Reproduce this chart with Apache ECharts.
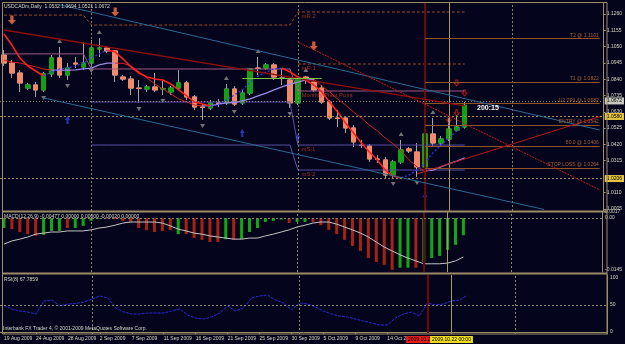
<!DOCTYPE html>
<html>
<head>
<meta charset="utf-8">
<script src="https://cdn.jsdelivr.net/npm/echarts@6.0.0/dist/echarts.min.js"></script>
<style>
  html, body { margin: 0; padding: 0; background: #04041c; }
  #chart { width: 625px; height: 344px; }
</style>
</head>
<body>
<div id="chart"></div>
<script>
  // daily bars, MT4 style (sunday bars included)
  const dates = ['19 Aug 2009','20 Aug 2009','21 Aug 2009','23 Aug 2009','24 Aug 2009','25 Aug 2009','26 Aug 2009','27 Aug 2009','28 Aug 2009','30 Aug 2009','31 Aug 2009',
    '1 Sep 2009','2 Sep 2009','3 Sep 2009','4 Sep 2009','6 Sep 2009','7 Sep 2009','8 Sep 2009','9 Sep 2009','10 Sep 2009','11 Sep 2009','13 Sep 2009','14 Sep 2009','15 Sep 2009','16 Sep 2009','17 Sep 2009','18 Sep 2009','20 Sep 2009','21 Sep 2009','22 Sep 2009','23 Sep 2009','24 Sep 2009','25 Sep 2009','27 Sep 2009','28 Sep 2009','29 Sep 2009','30 Sep 2009',
    '1 Oct 2009','2 Oct 2009','4 Oct 2009','5 Oct 2009','6 Oct 2009','7 Oct 2009','8 Oct 2009','9 Oct 2009','11 Oct 2009','12 Oct 2009','13 Oct 2009','14 Oct 2009','15 Oct 2009','16 Oct 2009','18 Oct 2009','19 Oct 2009','20 Oct 2009','21 Oct 2009','22 Oct 2009','23 Oct 2009','25 Oct 2009','26 Oct 2009'];
  const opens = [1.0996,1.0944,1.0880,1.0783,1.0803,1.0771,1.0874,1.0977,1.0867,1.0944,1.0919,1.0944,1.1035,1.1041,1.1022,1.0854,1.0841,1.0783,1.0777,1.0790,
    1.0777,1.0758,1.0783,1.0816,1.0726,1.0661,1.0655,1.0687,1.0687,1.0777,1.0687,1.0751,1.0912,1.0912,1.0932,1.0848,1.0835,1.0687,1.0854,1.0822,
    1.0783,1.0693,1.0590,1.0590,1.0526,1.0416,1.0410,1.0326,1.0320,1.0223,1.0307,1.0391,1.0371,1.0275,1.0487,1.0429,1.0455,1.0513,1.0532];
  const closes = [1.0944,1.0880,1.0816,1.0803,1.0771,1.0874,1.0977,1.0867,1.0912,1.0938,1.0944,1.1041,1.1041,1.1022,1.0867,1.0841,1.0783,1.0780,1.0790,1.0771,
    1.0780,1.0783,1.0816,1.0726,1.0661,1.0658,1.0687,1.0684,1.0777,1.0680,1.0751,1.0906,1.0909,1.0932,1.0854,1.0845,1.0687,1.0841,1.0835,1.0771,
    1.0693,1.0590,1.0587,1.0526,1.0436,1.0413,1.0326,1.0323,1.0223,1.0307,1.0384,1.0378,1.0275,1.0487,1.0429,1.0455,1.0519,1.0532,1.0672];
  const lows = [1.0925,1.0848,1.0758,1.0771,1.0726,1.0758,1.0854,1.0848,1.0835,1.0912,1.0899,1.0932,1.0983,1.1009,1.0822,1.0829,1.0738,1.0687,1.0758,1.0758,
    1.0738,1.0738,1.0777,1.0706,1.0642,1.0577,1.0642,1.0661,1.0674,1.0668,1.0674,1.0738,1.0867,1.0899,1.0835,1.0803,1.0655,1.0674,1.0809,1.0758,
    1.0680,1.0577,1.0532,1.0494,1.0403,1.0397,1.0307,1.0300,1.0204,1.0204,1.0294,1.0365,1.0210,1.0255,1.0410,1.0410,1.0442,1.0500,1.0521];
  const highs = [1.1028,1.0964,1.0899,1.0816,1.0822,1.0887,1.0996,1.1048,1.0944,1.0983,1.1080,1.1093,1.1105,1.1054,1.1028,1.0867,1.0861,1.0835,1.0803,1.0880,
    1.0835,1.0796,1.0899,1.0829,1.0738,1.0680,1.0706,1.0713,1.0809,1.0796,1.0771,1.0912,1.0983,1.0944,1.0944,1.0912,1.0848,1.0848,1.0861,1.0848,
    1.0803,1.0706,1.0642,1.0603,1.0545,1.0449,1.0423,1.0352,1.0339,1.0320,1.0449,1.0403,1.0429,1.0494,1.0590,1.0474,1.0590,1.0610,1.0694];

  // moving averages (red while falling, blue/lavender while rising)
  const maFast = [1.1131,1.1060,1.0977,1.0925,1.0893,1.0861,1.0887,1.0906,1.0912,1.0925,1.0944,1.0977,1.1003,1.1028,1.1015,1.0970,1.0919,1.0880,1.0854,1.0841,
    1.0835,1.0809,1.0771,1.0732,1.0693,1.0680,1.0668,1.0674,1.0706,1.0738,1.0771,1.0822,1.0861,1.0887,1.0906,1.0912,1.0887,1.0854,1.0835,1.0803,
    1.0758,1.0693,1.0629,1.0558,1.0494,1.0429,1.0371,1.0320,1.0255,1.0216,1.0204,1.0223,1.0255,1.0300,1.0365,1.0416,1.0461,1.0507,1.0552];
  const maSlow = [1.0964,1.0951,1.0944,1.0932,1.0919,1.0906,1.0899,1.0899,1.0899,1.0900,1.0906,1.0912,1.0932,1.0944,1.0944,1.0942,1.0925,1.0887,1.0848,1.0809,
    1.0777,1.0745,1.0713,1.0693,1.0674,1.0668,1.0670,1.0680,1.0687,1.0690,1.0700,1.0713,1.0732,1.0751,1.0771,1.0790,1.0809,1.0822,1.0835,1.0841,
    1.0796,1.0758,1.0713,1.0674,1.0629,1.0590,1.0545,1.0507,1.0461,1.0423,1.0378,1.0320,1.0275,1.0249,1.0255,1.0275,1.0294,1.0313,1.0333];

  // MACD(12,26,9): histogram split in rising / falling buffers, plus signal
  const macdUp = [-0.0028,null,null,null,null,-0.0047,-0.0036,-0.0036,null,-0.0028,-0.0022,-0.0008,-0.0002,null,null,null,null,null,null,null,
    null,null,-0.0045,null,null,null,null,null,-0.0059,null,-0.0059,-0.0039,-0.0028,-0.0011,-0.0008,-0.0004,null,-0.0011,-0.0011,null,
    null,null,null,null,null,null,null,null,null,null,-0.0139,-0.0139,null,-0.0123,-0.0112,-0.0106,-0.0089,-0.0075,-0.0048];
  const macdDown = [null,-0.0031,-0.0039,-0.0045,-0.0050,null,null,null,-0.0028,null,null,null,null,-0.0002,-0.0003,-0.0008,-0.0012,-0.0028,-0.0034,-0.0039,
    -0.0036,-0.0034,null,-0.0045,-0.0056,-0.0061,-0.0067,-0.0067,null,-0.0061,null,null,null,null,null,null,-0.0014,null,null,-0.0011,
    -0.0020,-0.0033,-0.0045,-0.0061,-0.0078,-0.0092,-0.0112,-0.0123,-0.0131,-0.0145,null,null,-0.0139,null,null,null,null,null,null];
  const macdSignal = [-0.0073,-0.0064,-0.0059,-0.0053,-0.0045,-0.0042,-0.0039,-0.0039,-0.0036,-0.0036,-0.0036,-0.0033,-0.0028,-0.0025,-0.0020,-0.0014,-0.0011,-0.0011,-0.0011,-0.0011,
    -0.0014,-0.0022,-0.0031,-0.0036,-0.0042,-0.0045,-0.0050,-0.0053,-0.0056,-0.0059,-0.0059,-0.0056,-0.0056,-0.0050,-0.0045,-0.0039,-0.0033,-0.0025,-0.0020,-0.0014,
    -0.0011,-0.0011,-0.0017,-0.0025,-0.0033,-0.0042,-0.0053,-0.0067,-0.0081,-0.0092,-0.0103,-0.0112,-0.0120,-0.0128,-0.0128,-0.0128,-0.0126,-0.0120,-0.0109];

  // RSI(8)
  const rsi = [48.7,42.6,38.9,37.0,33.3,57.4,59.3,48.1,51.9,52.8,55.6,61.1,66.7,63.0,44.4,37.0,33.3,33.3,35.2,35.2,
    35.2,38.9,42.6,31.5,25.9,24.1,27.8,35.2,48.1,38.9,44.4,63.0,66.7,68.5,59.3,53.7,40.7,53.7,51.9,46.3,
    38.9,33.3,29.6,27.8,24.1,20.4,16.7,13.0,13.0,25.9,33.3,37.0,29.6,53.7,50.0,51.9,57.4,59.3,67.8];

  // axis tick labels
  const priceTicks = [1.0005, 1.0110, 1.0315, 1.0420, 1.0525, 1.0630, 1.0735, 1.0840, 1.0945, 1.1050, 1.1155, 1.1260];
  const macdTicks = [0.0017, 0, -0.0145];
  const rsiTicks = [0, 50, 100];

  // trade levels drawn from the red marker bar to the right edge
  const levelNames = ['T2 @ 1.1101', 'T1 @ 1.0822', '1/2 TP1 @ 1.0682', 'ENTRY @ 1.0542', '50.0 @ 1.0406', 'STOP LOSS @ 1.0264'];
  const levelPrices = [1.1101, 1.0822, 1.0682, 1.0542, 1.0406, 1.0264];
  const bidPrice = 1.0672;
  const alertPrices = [1.0580, 1.0206];

  // monthly pivots: Aug, Sep, Oct
  const monthFirstBar = [0, 11, 37];
  const mR2 = [1.1253, 1.1189, 1.1273];
  const mR1 = [null, null, 1.0938];
  const mPivot = [1.1003, 1.0906, 1.0764];
  const mS1 = [null, 1.0693, 1.0416];
  const mS2 = [null, 1.0416, 1.0255];

  // drawn lines [bar, price]
  const channelUpper = [[7, 1.1320], [75, 1.0513]];
  const channelLower = [[5, 1.0719], [68, 1.0001]];
  const trendA = [[0, 1.1157], [58, 1.0668]];
  const trendB = [[37, 1.1080], [75, 1.0127]];
  const trendC = [[52, 1.0230], [75, 1.0599]];
  const greenLine = [[30, 1.0848], [40, 1.0848]];

  // signals [bar, price]
  const orangeArrows = [[1, 1.1221], [14, 1.1273], [39, 1.1054]];
  const redArrows = [[57, 1.0816], [58, 1.0751], [57, 1.0623], [56, 1.0577]];
  const blueArrows = [[8, 1.0577], [30, 1.0494], [37, 1.0461], [53, 1.0081]];
  const fractalUp = [7, 12, 28, 32, 38, 50, 54];
  const fractalDown = [5, 8, 11, 17, 20, 25, 29, 36, 49, 52];

  const monthSeparators = [11, 37, 64];
  const redBar = 53;
  const khakiBar = 56;
  const totalSlots = 76;

  const cats = dates.slice();
  for (let i = dates.length; i < totalSlots; i++) cats.push('#' + i);

  const frame = '#9c8c64';
  const txt = '#d6d6c4';
  const font = 'Liberation Sans';

  function splitDir(arr) {
    const up = arr.map(() => null), down = arr.map(() => null);
    for (let i = 1; i < arr.length; i++) {
      const t = arr[i] >= arr[i - 1] ? up : down;
      t[i - 1] = arr[i - 1];
      t[i] = arr[i];
    }
    return [up, down];
  }
  const [fastUp, fastDown] = splitDir(maFast);
  const [slowUp, slowDown] = splitDir(maSlow);

  function monthly(levels) {
    return dates.map((d, i) => {
      let m = 0;
      monthFirstBar.forEach((b, k) => { if (i >= b) m = k; });
      return levels[m];
    });
  }

  function verticals() {
    const v = monthSeparators.map(b => ({ xAxis: b, lineStyle: { color: '#8a8466', type: [2, 2], width: 1 } }));
    v.push({ xAxis: redBar, lineStyle: { color: '#6e0808', type: 'solid', width: 2 } });
    v.push({ xAxis: khakiBar, lineStyle: { color: '#a89a5a', type: 'solid', width: 1 } });
    return v;
  }

  function seg(pts, style) {
    return [{ coord: pts[0], lineStyle: style }, { coord: pts[1] }];
  }

  const levelColor = '#8e5426';
  const mainMarks = verticals().concat(
    levelPrices.map((p, k) => [
      { coord: [redBar, p], lineStyle: { color: levelColor, width: 1, type: 'solid' },
        label: { show: true, formatter: levelNames[k], position: 'insideEndTop', distance: 1,
          color: '#a86034', fontSize: 5, fontFamily: font } },
      { coord: [totalSlots - 1, p] }
    ]),
    [
      { yAxis: bidPrice, lineStyle: { color: '#8a8468', type: [1, 2], width: 1 },
        label: { show: true, position: 'end', formatter: bidPrice.toFixed(4), distance: 1, color: '#000',
          backgroundColor: '#c8c8c0', padding: [1, 2], fontSize: 5, fontFamily: font } }
    ],
    alertPrices.map(p => ({ yAxis: p, lineStyle: { color: '#a89028', type: [2, 2], width: 1 },
      label: { show: true, position: 'end', formatter: p.toFixed(4), distance: 1, color: '#000',
        backgroundColor: '#e4c440', padding: [1, 2], fontSize: 5, fontFamily: font } })),
    [
      seg(channelUpper, { color: '#2c6894', width: 1, type: 'solid' }),
      seg(channelLower, { color: '#2c6894', width: 1, type: 'solid' }),
      seg(trendA, { color: '#8c1010', width: 1.4, type: 'solid' }),
      seg(trendB, { color: '#c41818', width: 1, type: [2, 1] }),
      seg(trendC, { color: '#b81818', width: 1, type: 'solid' }),
      seg(greenLine, { color: '#7cc048', width: 1.2, type: 'solid' })
    ]
  );

  const pivotLabelData = [
    [mR2[2], 'mR 2'], [mR1[2], 'mR 1'], [mPivot[2], 'Monthly Pivot Point'], [mS1[2], 'mS 1'], [mS2[2], 'mS 2']
  ].map(([p, n]) => ({ value: [monthFirstBar[2], p], label: { formatter: n } }));

  const arrowDown = 'path://M3,0 L7,0 L7,5 L10,5 L5,10 L0,5 L3,5 Z';
  const arrowUp = 'path://M5,0 L10,5 L7,5 L7,10 L3,10 L3,5 L0,5 Z';

  const chart = echarts.init(document.getElementById('chart'));
  const option = {
    backgroundColor: '#04041c',
    animation: false,
    grid: [
      { left: -3, right: 18, top: 3, height: 208 },
      { left: -3, right: 18, top: 212, height: 60 },
      { left: -3, right: 18, top: 275, height: 59 }
    ],
    xAxis: [0, 1, 2].map(g => ({
      type: 'category', gridIndex: g, data: cats, boundaryGap: true,
      axisLine: { show: g === 2, lineStyle: { color: frame } },
      axisTick: { show: g === 2, alignWithLabel: true, length: 2, lineStyle: { color: frame },
        interval: (i) => i % 4 === 0 && i <= 48 },
      axisLabel: { show: g === 2, align: 'left', margin: 2, color: txt, fontSize: 5, fontFamily: font,
        interval: (i) => i % 4 === 0 && i <= 48 },
      splitLine: { show: false }
    })),
    yAxis: [
      { type: 'value', gridIndex: 0, position: 'right', min: 0.9991, max: 1.1331, scale: true,
        splitLine: { show: false }, axisLine: { show: true, lineStyle: { color: frame } },
        axisTick: { show: true, length: 2, customValues: priceTicks, lineStyle: { color: frame } },
        axisLabel: { customValues: priceTicks, formatter: v => v.toFixed(4), color: txt, fontSize: 5, fontFamily: font, margin: 3 } },
      { type: 'value', gridIndex: 1, position: 'right', min: -0.0151, max: 0.0017,
        splitLine: { show: false }, axisLine: { show: true, lineStyle: { color: frame } },
        axisTick: { show: false },
        axisLabel: { customValues: macdTicks, formatter: v => (v === 0 ? '0.00' : v.toFixed(4)), color: txt, fontSize: 5, fontFamily: font, margin: 3 } },
      { type: 'value', gridIndex: 2, position: 'right', min: -3.7, max: 105.6,
        splitLine: { show: false }, axisLine: { show: true, lineStyle: { color: frame } },
        axisTick: { show: false },
        axisLabel: { customValues: rsiTicks, color: txt, fontSize: 5, fontFamily: font, margin: 3 } }
    ],
    series: [
      {
        type: 'candlestick', name: 'wicks', xAxisIndex: 0, yAxisIndex: 0, barWidth: 5,
        data: dates.map((d, i) => [opens[i], closes[i], lows[i], highs[i]]),
        itemStyle: { color: 'rgba(0,0,0,0)', color0: 'rgba(0,0,0,0)', borderColor: '#a4a4a4', borderColor0: '#a4a4a4', borderWidth: 1 },
        markLine: { silent: true, symbol: ['none', 'none'], label: { show: false }, data: mainMarks }
      },
      {
        type: 'candlestick', name: 'bodies', xAxisIndex: 0, yAxisIndex: 0, barWidth: 5,
        data: dates.map((d, i) => [opens[i], closes[i], Math.min(opens[i], closes[i]), Math.max(opens[i], closes[i])]),
        itemStyle: { color: '#14a014', color0: '#f08a6c', borderColor: '#14a014', borderColor0: '#f08a6c', borderWidth: 1 }
      },
      { type: 'line', xAxisIndex: 0, yAxisIndex: 0, data: monthly(mR2), symbol: 'none', lineStyle: { color: '#a04a1e', width: 1, type: [3, 2] } },
      { type: 'line', xAxisIndex: 0, yAxisIndex: 0, data: monthly(mR1), symbol: 'none', lineStyle: { color: '#a04a1e', width: 1, type: [3, 2] } },
      { type: 'line', xAxisIndex: 0, yAxisIndex: 0, data: monthly(mPivot), symbol: 'none', lineStyle: { color: '#a05a86', width: 1 } },
      { type: 'line', xAxisIndex: 0, yAxisIndex: 0, data: monthly(mS1), symbol: 'none', lineStyle: { color: '#5a4ea8', width: 1 } },
      { type: 'line', xAxisIndex: 0, yAxisIndex: 0, data: monthly(mS2), symbol: 'none', lineStyle: { color: '#5a4ea8', width: 1 } },
      { type: 'line', xAxisIndex: 0, yAxisIndex: 0, data: slowDown, symbol: 'none', lineStyle: { color: '#d42020', width: 1 } },
      { type: 'line', xAxisIndex: 0, yAxisIndex: 0, data: slowUp, symbol: 'none', lineStyle: { color: '#9a88e8', width: 1.3 } },
      { type: 'line', xAxisIndex: 0, yAxisIndex: 0, data: fastDown, symbol: 'none', lineStyle: { color: '#ff2020', width: 1.6 } },
      { type: 'line', xAxisIndex: 0, yAxisIndex: 0, data: fastUp, symbol: 'none', lineStyle: { color: '#3434f0', width: 1.2, type: [2, 2] } },
      {
        type: 'scatter', xAxisIndex: 0, yAxisIndex: 0, symbol: 'circle', symbolSize: 1,
        itemStyle: { color: 'rgba(0,0,0,0)' }, data: pivotLabelData,
        label: { show: true, position: 'right', offset: [-2, 4], color: '#c43c1c', fontSize: 6, fontFamily: font }
      },
      { type: 'scatter', xAxisIndex: 0, yAxisIndex: 0, symbol: 'triangle', symbolSize: [5, 4], symbolOffset: [0, -6],
        itemStyle: { color: '#8e8e8e' }, data: fractalUp.map(i => [i, highs[i]]) },
      { type: 'scatter', xAxisIndex: 0, yAxisIndex: 0, symbol: 'triangle', symbolRotate: 180, symbolSize: [5, 4], symbolOffset: [0, 6],
        itemStyle: { color: '#8e8e8e' }, data: fractalDown.map(i => [i, lows[i]]) },
      { type: 'scatter', xAxisIndex: 0, yAxisIndex: 0, symbol: arrowDown, symbolSize: [8, 9], itemStyle: { color: '#ff7448' }, data: orangeArrows },
      { type: 'scatter', xAxisIndex: 0, yAxisIndex: 0, symbol: arrowDown, symbolSize: [5, 6],
        itemStyle: { color: 'rgba(0,0,0,0)', borderColor: '#d81818', borderWidth: 1 }, data: redArrows },
      { type: 'scatter', xAxisIndex: 0, yAxisIndex: 0, symbol: arrowUp, symbolSize: [5, 8], itemStyle: { color: '#3442d8' }, data: blueArrows },

      { type: 'bar', xAxisIndex: 1, yAxisIndex: 1, data: macdUp, barWidth: 3, barGap: '-100%', itemStyle: { color: '#12a812' },
        markLine: { silent: true, symbol: ['none', 'none'], label: { show: false },
          data: verticals().concat([{ yAxis: 0, lineStyle: { color: '#8a8466', type: [2, 2], width: 1 } }]) } },
      { type: 'bar', xAxisIndex: 1, yAxisIndex: 1, data: macdDown, barWidth: 3, barGap: '-100%', itemStyle: { color: '#a82212' } },
      { type: 'line', xAxisIndex: 1, yAxisIndex: 1, data: macdSignal, symbol: 'none', lineStyle: { color: '#c4c4c4', width: 1 } },

      { type: 'line', xAxisIndex: 2, yAxisIndex: 2, data: rsi, symbol: 'none', lineStyle: { color: '#2a2ad6', width: 1, type: [3, 1] },
        markLine: { silent: true, symbol: ['none', 'none'], label: { show: false },
          data: verticals().concat([{ yAxis: 50, lineStyle: { color: '#8a8466', type: [2, 2], width: 1 } }]) } }
    ],
    graphic: [
      { type: 'rect', z: 50, silent: true, shape: { x: 2.5, y: 2.5, width: 604.5, height: 331.5 }, style: { fill: 'none', stroke: frame, lineWidth: 1 } },
      { type: 'line', z: 50, silent: true, shape: { x1: 2, y1: 211.5, x2: 607, y2: 211.5 }, style: { stroke: frame, lineWidth: 2 } },
      { type: 'line', z: 50, silent: true, shape: { x1: 2, y1: 273.5, x2: 607, y2: 273.5 }, style: { stroke: frame, lineWidth: 2 } },
      { type: 'text', z: 60, left: 4, top: 4, style: { text: 'USDCADm,Daily  1.0532 1.0694 1.0521 1.0672', fill: txt, font: '5px ' + font } },
      { type: 'text', z: 60, left: 4, top: 214, style: { text: 'MACD(12,26,9) -0.00477 0.00000 0.00000 -0.00020 0.00000', fill: txt, font: '5px ' + font } },
      { type: 'text', z: 60, left: 4, top: 277, style: { text: 'RSI(8) 67.7859', fill: txt, font: '5px ' + font } },
      { type: 'text', z: 60, left: 3, top: 326, style: { text: 'Interbank FX Trader 4, \u00a9 2001-2009 MetaQuotes Software Corp.', fill: txt, font: '5px ' + font } },
      { type: 'text', z: 60, left: 477, top: 105, style: { text: '200:15', fill: '#ffffff', font: 'bold 7px ' + font } },
      { type: 'text', z: 60, left: 406, top: 336, style: { text: '2009.10.20 00:00', fill: '#000', backgroundColor: '#e41c1c', padding: [1, 2], font: '5px ' + font } },
      { type: 'text', z: 61, left: 430, top: 336, style: { text: '2009.10.22 00:00', fill: '#000', backgroundColor: '#ecdc1c', padding: [1, 2], font: '5px ' + font } }
    ]
  };
  chart.setOption(option);
</script>
</body>
</html>
